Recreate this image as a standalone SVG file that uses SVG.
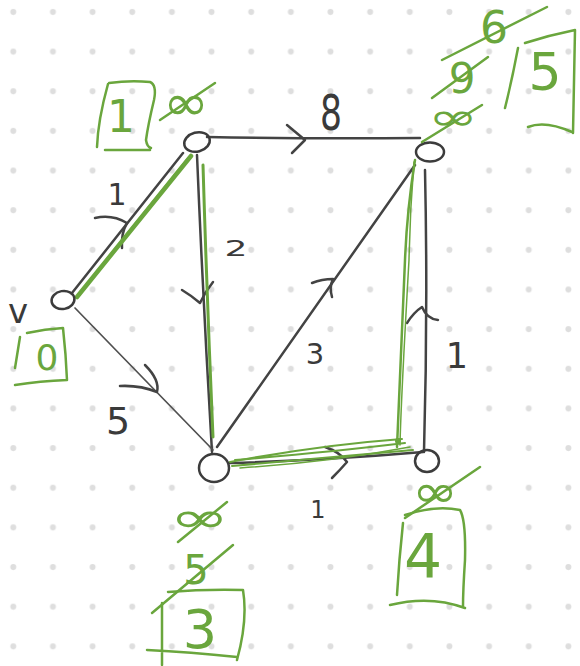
<svg xmlns="http://www.w3.org/2000/svg" width="580" height="666" viewBox="0 0 580 666">
<defs>
<pattern id="dots" x="0" y="0" width="39.65" height="39.65" patternUnits="userSpaceOnUse">
<circle cx="13.3" cy="12" r="3" fill="#dedede"/>
</pattern>
<style>
.edge{fill:none;stroke:#434343;stroke-width:2.5;stroke-linecap:round;stroke-linejoin:round}
.thin{fill:none;stroke:#505050;stroke-width:1.7;stroke-linecap:round}
.node{fill:none;stroke:#3c3c3c;stroke-width:2.5}
.hl{fill:none;stroke:#6aa63d;stroke-linecap:round;stroke-linejoin:round}
.g{fill:none;stroke:#6aa63d;stroke-width:2.5;stroke-linecap:round;stroke-linejoin:round}
.gt{fill:#6aa63d;font-family:"DejaVu Sans","Liberation Sans",sans-serif;text-anchor:middle}
.inf{fill:#6aa63d;font-family:"DejaVu Sans","Liberation Sans",sans-serif;text-anchor:middle}
.lbl{fill:#3a3a3a;font-family:"DejaVu Sans","Liberation Sans",sans-serif;text-anchor:middle}
</style>
</defs>
<rect width="580" height="666" fill="#ffffff"/>
<rect width="580" height="666" fill="url(#dots)"/>

<g id="connectors">
<path class="edge" d="M72,293 L183,153"/>
<path class="edge" d="M95,218 Q112,214 127,223 M127,223 Q121,233 122,248"/>
<text class="lbl" x="117" y="205" font-size="30">1</text>

<path class="edge" d="M207,137 Q310,139 420,138"/>
<path class="edge" d="M287,125 L305,140 L292,153"/>
<text class="lbl" x="331" y="130" font-size="50" textLength="22" lengthAdjust="spacingAndGlyphs">8</text>

<path class="edge" d="M197,155 Q203,300 212,452"/>
<path class="edge" d="M182,290 Q192,296 200,303 Q205,292 213,282"/>
<text class="lbl" x="236" y="256" font-size="22" textLength="23" lengthAdjust="spacingAndGlyphs">2</text>

<path class="thin" d="M75,308 L213,450"/>
<path class="edge" d="M145,365 Q160,380 157,392 M120,386 Q140,385 157,392"/>
<text class="lbl" x="118" y="434" font-size="38">5</text>

<path class="edge" d="M217,447 L415,165"/>
<path class="edge" d="M312,283 Q322,279 333,279 Q329,287 332,297"/>
<text class="lbl" x="315" y="364" font-size="29">3</text>

<path class="edge" d="M425,170 Q428,310 424,452"/>
<path class="edge" d="M407,323 Q414,312 422,307 Q427,319 438,320"/>
<text class="lbl" x="457" y="368" font-size="35">1</text>

<path class="edge" d="M230,463 Q330,460 423,452"/>
<path class="edge" d="M325,447 Q340,452 347,462 Q340,470 332,478"/>
<text class="lbl" x="318" y="518" font-size="24">1</text>
</g>

<g id="shortest-path">
<path class="hl" stroke-width="4.5" d="M77,297 L191,156"/>
<path class="hl" stroke-width="1.5" d="M81,291 L187,159"/>
<path class="hl" stroke-width="3" d="M203,165 Q207,300 213,437"/>
<path class="hl" stroke-width="2.5" d="M415,160 Q407,210 405,260 Q399,400 397,447"/>
<path class="hl" stroke-width="1.5" d="M414,162 Q410,210 409,260 Q401,400 400,445"/>
<path class="hl" stroke-width="2" d="M230,462 Q320,445 402,439"/>
<path class="hl" stroke-width="2" d="M232,466 Q320,458 413,450"/>
<path class="hl" stroke-width="2" d="M235,460 Q330,452 405,443"/>
<path class="hl" stroke-width="1.5" d="M240,468 Q330,462 410,447"/>
<circle cx="398" cy="441" r="3" fill="#6aa63d"/>
</g>

<g id="node-A">
<ellipse class="node" cx="197" cy="142" rx="13" ry="9.5" transform="rotate(-15 197 142)"/>
<path class="g" d="M108,84 Q98,120 97,147 M109,83 Q130,80 150,82 Q157,85 154,100 Q148,125 146,140 Q147,147 151,148 M105,150 L150,150"/>
<text class="gt" x="121" y="132" font-size="44">1</text>
<text class="inf" x="186" y="103" font-size="50" dominant-baseline="central" textLength="46" lengthAdjust="spacingAndGlyphs">∞</text>
<path class="g" d="M160,120 L215,83"/>
</g>

<g id="node-v">
<ellipse class="node" cx="63" cy="300" rx="11.5" ry="9" transform="rotate(-10 63 300)"/>
<text class="lbl" x="18" y="323" font-size="34">v</text>
<path class="g" d="M20,337 L15,368 M27,333 Q45,329 63,328 Q66,355 67,380 M15,385 Q40,381 67,380"/>
<text class="gt" x="47" y="370" font-size="36">0</text>
</g>

<g id="node-B">
<ellipse class="node" cx="430" cy="152" rx="14" ry="9.5"/>
<text class="inf" x="453" y="117" font-size="38" dominant-baseline="central" textLength="50" lengthAdjust="spacingAndGlyphs">∞</text>
<path class="g" d="M422,142 L482,105"/>
<text class="gt" x="462" y="93" font-size="42">9</text>
<path class="g" d="M432,98 L488,57"/>
<text class="gt" x="494" y="43" font-size="44">6</text>
<path class="g" d="M442,60 L547,7"/>
<path class="g" d="M518,48 Q512,80 505,108 M525,43 Q550,35 575,30 Q574,80 573,133 M528,127 Q545,120 572,132"/>
<text class="gt" x="545" y="90" font-size="52">5</text>
</g>

<g id="node-C">
<ellipse class="node" cx="214" cy="468" rx="15" ry="14"/>
<text class="inf" x="199" y="517" font-size="42" dominant-baseline="central" textLength="60" lengthAdjust="spacingAndGlyphs">∞</text>
<path class="g" d="M178,542 L227,502"/>
<text class="gt" x="196" y="584" font-size="40">5</text>
<path class="g" d="M152,613 L233,545"/>
<path class="g" d="M168,592 Q205,589 243,590 Q248,620 237,660 M162,603 L162,665 M147,650 Q190,652 237,657"/>
<text class="gt" x="200" y="648" font-size="54">3</text>
</g>

<g id="node-D">
<ellipse class="node" cx="427" cy="461" rx="12" ry="11"/>
<text class="inf" x="435" y="491" font-size="46" dominant-baseline="central" textLength="46" lengthAdjust="spacingAndGlyphs">∞</text>
<path class="g" d="M405,518 L480,467"/>
<path class="g" d="M403,523 Q399,560 397,595 M405,515 Q435,505 460,510 Q466,520 465,560 Q463,590 463,607 M390,605 Q430,595 465,608"/>
<text class="gt" x="423" y="577" font-size="60">4</text>
</g>
</svg>
